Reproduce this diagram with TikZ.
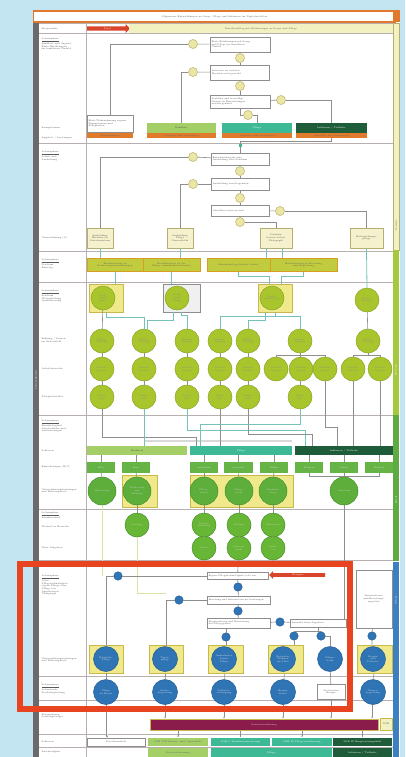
\documentclass[tikz,border=0pt]{standalone}
\usetikzlibrary{arrows.meta,shapes.arrows}
\definecolor{bgblue}{HTML}{C3E5F2}
\definecolor{titleor}{HTML}{E2782E}
\definecolor{lyel}{HTML}{F2F1C2}
\definecolor{redar}{HTML}{D8452A}
\definecolor{orstrip}{HTML}{E07B2C}
\definecolor{lgr}{HTML}{A3CF66}
\definecolor{tealc}{HTML}{3DB996}
\definecolor{dgr}{HTML}{1F5C3A}
\definecolor{beige}{HTML}{F4F1CC}
\definecolor{beigeb}{HTML}{B7AE73}
\definecolor{olive}{HTML}{C0CB3E}
\definecolor{oliveb}{HTML}{D89E22}
\definecolor{ygc}{HTML}{A9C52C}
\definecolor{ygcb}{HTML}{8BA424}
\definecolor{hly}{HTML}{EFE98C}
\definecolor{hlyb}{HTML}{C9B84C}
\definecolor{grc}{HTML}{5DAE3B}
\definecolor{grcb}{HTML}{478F2C}
\definecolor{gbox}{HTML}{66B445}
\definecolor{blc}{HTML}{2F75B6}
\definecolor{blcb}{HTML}{23598E}
\definecolor{purp}{HTML}{8A1C4B}
\definecolor{bbar}{HTML}{3C80C2}
\definecolor{sepg}{HTML}{B8B0B0}
\definecolor{lineg}{HTML}{8E8E8E}
\definecolor{tline}{HTML}{74C2B8}
\definecolor{pale}{HTML}{D5E6A4}
\definecolor{dgray}{HTML}{6A6A6A}
\definecolor{txtg}{HTML}{5A5A5A}
\definecolor{ycircf}{HTML}{EAE6A6}
\definecolor{ycircb}{HTML}{B9B06A}
\definecolor{ygbar}{HTML}{A4C93C}
\definecolor{grbar}{HTML}{5EAB42}
\definecolor{redfr}{HTML}{E8441F}
\begin{document}
\begin{tikzpicture}[x=1pt,y=-1pt,
  every node/.style={font=\fontsize{2.3}{2.7}\selectfont, inner sep=0.5pt, align=center},
  txtbox/.style={draw=lineg, fill=white, line width=0.6pt, text=txtg, align=left, inner sep=1pt},
  ycirc/.style={circle, draw=ycircb, fill=ycircf, line width=0.5pt, minimum size=9, inner sep=0, text=txtg},
  bsmall/.style={circle, draw=blcb, fill=blc, line width=0.4pt, minimum size=8.5, inner sep=0, text=white},
  catbox/.style={minimum height=10, inner sep=0.5pt, text=black!70},
  strip/.style={fill=orstrip, minimum height=5, inner sep=0, text=black!60},
  bgbox/.style={draw=beigeb, fill=beige, line width=0.6pt, text=txtg, minimum height=20},
  obox/.style={draw=oliveb, fill=olive, line width=0.8pt, minimum height=13, text=black!60},
  yg/.style={circle, fill=ygc, draw=ygcb, line width=0.5pt, minimum size=24, inner sep=0, text=black!45},
  hl/.style={fill=hly, draw=hlyb, line width=0.6pt, minimum height=28},
  gc/.style={circle, fill=grc, draw=grcb, line width=0.5pt, minimum size=28, inner sep=0, text=white!80!black},
  gc2/.style={circle, fill=grc!90!lime, draw=grcb, line width=0.5pt, minimum size=24, inner sep=0, text=white!80!black},
  gb/.style={fill=gbox, minimum height=11, text=white!85!black},
  bc/.style={circle, fill=blc, draw=blcb, line width=0.5pt, minimum size=25, inner sep=0, text=white!85!black},
  conn/.style={draw=lineg, line width=0.6pt},
  tl/.style={draw=tline, line width=0.8pt},
  pl/.style={draw=pale, line width=0.9pt},
  lab/.style={anchor=west, text=txtg, align=left},
  sep/.style={draw=sepg, line width=0.6pt},
  tip/.style={-{Latex[length=1.6pt,width=1.6pt]}}
]
\useasboundingbox (0,0) rectangle (405,757);
\fill[bgblue] (0,0) rectangle (405,757);
\fill[white] (33,10) rectangle (400,757);
% side bars
\fill[dgray] (33,23) rectangle (39,757);
\node[rotate=90, text=white] (vtl) at (36,380) {Lebensphasen};
\fill[lyel] (393,23) rectangle (399,250);
\draw[beigeb, line width=0.4pt] (393,23) rectangle (399,250);
\fill[ygbar] (393,250) rectangle (399,415);
\fill[grbar] (393,415) rectangle (399,561);
\fill[bbar] (393,562) rectangle (399,757);
\node[rotate=90, text=txtg] (vr1) at (396,225) {Familie};
\node[rotate=90, text=white] (vr2) at (396,370) {Bildung};
\node[rotate=90, text=white] (vr3) at (396,500) {Beruf};
\node[rotate=90, text=white] (vr4) at (396,600) {Pflege};
% title
\node[draw=titleor, line width=1.2pt, fill=white, minimum width=362, minimum height=11, text=txtg] (title) at (214.5,16.5) {Allgemeine Entwicklungen zu Sorge, Pflege und Inklusion im Digitalzeitalter};
\fill[titleor] (393,10.5) rectangle (399.5,22.5);
% separators
\foreach \yy in {23,33,143,251,282,415,509,560,676,700,734,747} \draw[sep] (39,\yy) -- (393,\yy);
\draw[sep] (86,23) -- (86,757);
% row labels
\node[lab] (l1) at (41,28.5) {Körpernähe};
\node[lab] (l2) at (41,44) {\underline{Lebensphase}\\ Kindheit und Jugend\\ Erste Erfahrungen\\ im familiären Umfeld};
\node[lab] (l3) at (41,128) {Kompetenzen};
\node[lab] (l4) at (41,138) {Angebot / Leistungen};
\node[lab] (l5) at (41,156) {\underline{Lebensphase}\\ Schule und\\ Ausbildung};
\node[lab] (l6) at (41,238) {Unterstützung (A)};
\node[lab] (l7) at (41,264) {\underline{Lebensphase}\\ Studium\\ Einstieg};
\node[lab] (l8) at (41,296) {\underline{Lebensphase}\\ Studium\\ Weiterbildung\\ Qualifizierung};
\node[lab] (l9) at (41,340) {Bildung / Lernen\\ im Arbeitsfeld};
\node[lab] (l10) at (41,369) {Arbeitsbereiche};
\node[lab] (l11) at (41,397) {Tätigkeitsfelder};
\node[lab] (l12) at (41,426) {\underline{Lebensphase}\\ Berufstätigkeit\\ Arbeitsfelder und\\ Anforderungen};
\node[lab] (l13) at (41,451) {Sektoren};
\node[lab] (l14) at (41,467) {Einrichtungen (B/C)};
\node[lab] (l15) at (41,491) {Unterstützungsleistungen\\ und Hilfeangebote};
\node[lab] (l16) at (41,515) {\underline{Lebensphase}\\ Berufswechsel};
\node[lab] (l17) at (41,527) {Wechsel in Bereiche};
\node[lab] (l18) at (41,548) {Neue Aufgaben};
\node[lab] (l19) at (41,585) {\underline{Lebensphase}\\ Alter\\ Pflegebedürftigkeit\\ eigene Pflege oder\\ Pflege von\\ Angehörigen\\ Übergänge};
\node[lab] (l20) at (41,660) {Unterstützungsleistungen\\ und Hilfeangebote};
\node[lab] (l21) at (41,689) {\underline{Lebensphase}\\ Lebensende\\ Sterbebegleitung};
\node[lab] (l22) at (41,716) {Finanzierung\\ Leistungsträger};
\node[lab] (l23) at (41,742) {Sektoren};
\node[lab] (l24) at (41,752) {Zuständigkeit};
% row 2 header
\node[single arrow, fill=redar, minimum height=43, minimum width=9, single arrow head extend=1.2pt, inner sep=0, text=white] (rarr1) at (107.5,28.5) {Start};
\node[fill=lyel, minimum width=264, minimum height=9, text=txtg] (hdr) at (261,28.5) {Familienalltag mit Erfahrungen zu Sorge und Pflege};
% ---------- section 1
\node[txtbox, minimum width=60, minimum height=15, text width=57] (A) at (240,44.5) {Erste Erfahrungen mit Sorge\\ und Pflege im familiären\\ Umfeld};
\node[ycirc] (y1) at (193,44) {};
\node[ycirc] (y2) at (240,58) {};
\node[txtbox, minimum width=59, minimum height=15, text width=56] (B) at (240,72.5) {Interesse an sozialen\\ Berufen wird geweckt};
\node[ycirc] (y3) at (193,72) {};
\node[ycirc] (y4) at (240,86) {};
\node[txtbox, minimum width=60, minimum height=13, text width=57] (C) at (240,101.5) {Praktika und freiwillige\\ Dienste in Einrichtungen\\ werden genutzt};
\node[ycirc] (y5) at (281,100) {};
\node[ycirc] (y6) at (248,115) {};
\node[txtbox, minimum width=46, minimum height=17, text width=43] (W) at (110,123.5) {Erste Wahrnehmung eigener\\ Kompetenzen und\\ Fähigkeiten};
\node[catbox, fill=lgr, minimum width=69] (K1) at (181.5,128) {Kindheit};
\node[catbox, fill=tealc, minimum width=70, text=white] (K2) at (257,128) {Pflege};
\node[catbox, fill=dgr, minimum width=71, text=white] (K3) at (331.5,128) {Inklusion / Teilhabe};
\node[strip, minimum width=46] (O0) at (110,135.5) {Kompetenzen};
\node[strip, minimum width=69] (O1) at (181.5,135.5) {Angebote und Leistungen};
\node[strip, minimum width=70] (O2) at (257,135.5) {Angebote und Leistungen};
\node[strip, minimum width=71] (O3) at (331.5,135.5) {Angebote und Leistungen};
\draw[conn] (A) -- (y1);
\draw[conn] (y1) -| (W.north);
\draw[conn] (A) -- (y2) -- (B);
\draw[conn] (B) -- (y3);
\draw[conn] (y3) -| (K1.north);
\draw[conn] (B) -- (y4) -- (C);
\draw[conn] (C) -- (y5);
\draw[conn] (y5) -| (K3.north);
\draw[conn] (C.south) |- (y6);
\draw[conn] (y6) -| (K2.north);
% ---------- section 2
\node[txtbox, minimum width=58, minimum height=12, text width=55] (D) at (240,159) {Entscheidung für eine\\ Ausbildung oder Studium};
\node[ycirc] (y7) at (193,157) {};
\node[ycirc] (y8) at (240,171) {};
\node[txtbox, minimum width=58, minimum height=12, text width=55] (E) at (240,184) {Ausbildung wird begonnen};
\node[ycirc] (y9) at (193,184) {};
\node[ycirc] (y10) at (240,198) {};
\node[txtbox, minimum width=58, minimum height=11, text width=55] (F) at (240,210.5) {Abschluss wird erreicht};
\node[ycirc] (y11) at (280,211) {};
\node[ycirc] (y12) at (240,222) {};
\coordinate (j1) at (240,141);
\draw[conn] (O3.south) |- (j1) -- (D.north);
\node[fill=tealc, minimum size=3, inner sep=0] (sq) at (240,145) {};
\node[bgbox, minimum width=26, text width=24] (bx1) at (100,238) {Ausbildung\\ Erzieher/in\\ Sozialassistenz};
\node[bgbox, minimum width=26, text width=24] (bx2) at (180,238) {Ausbildung\\ Pflege\\ Generalistik};
\node[bgbox, minimum width=32, text width=30] (bx3) at (276,238) {Studium\\ Soziale Arbeit\\ Pädagogik};
\node[bgbox, minimum width=33, text width=31] (bx4) at (366.5,238) {Heilerziehungs-\\ pflege};
\draw[conn] (D) -- (y7);
\draw[conn] (y7) -| (bx1.north);
\draw[conn] (D) -- (y8) -- (E);
\draw[conn] (E) -- (y9);
\draw[conn] (y9) -| (bx2.north);
\draw[conn] (E) -- (y10) -- (F);
\draw[conn] (F) -- (y11);
\draw[conn] (y11) -| (bx4.north);
\draw[conn] (F) -- (y12);
\draw[conn] (y12) -| (bx3.north);
% ---------- section 3
\node[obox, minimum width=56] (ob1) at (115,265) {Berufseinstieg in\\ Kindertageseinrichtungen};
\node[obox, minimum width=57] (ob2) at (171.5,265) {Berufseinstieg in der\\ Pflege (ambulant/stationär)};
\node[obox, minimum width=63] (ob3) at (238.5,265) {Berufseinstieg Soziale Arbeit};
\node[obox, minimum width=67] (ob4) at (303.5,265) {Berufseinstieg in Beratung\\ und Begleitung};
\draw[tl] (bx1.south) -- (bx1.south |- ob1.north);
\draw[tl] (bx2.south) -- (bx2.south |- ob2.north);
\draw[tl] ([xshift=-10pt]bx3.south) -- ([xshift=-10pt]bx3.south |- ob3.north);
\draw[tl] ([xshift=6pt]bx3.south) -- ([xshift=6pt]bx3.south |- ob4.north);
% ---------- section 4
\node[hl, minimum width=34] (hl1) at (106,298) {};
\node[hl, draw=lineg, fill=gray!12, minimum width=37] (hl2) at (181.5,298) {};
\node[hl, minimum width=34] (hl3) at (275,298) {};
\node[yg] (a1) at (103,298) {Fach-\\kraft\\Kita};
\node[yg] (a2) at (177,298) {Fach-\\kraft\\Pflege};
\node[yg] (a3) at (272,298) {Sozial-\\arbeiter/in};
\node[yg] (a4) at (367,300) {Heiler-\\zieher/in};
\draw[tl] (bx4.south) -- (a4.north);
\draw[tl] (ob1.south) -- (ob1.south |- hl1.north);
\draw[tl] (ob2.south) -- (ob2.south |- hl2.north);
\draw[tl] (ob3.south) -- ++(0,4) -| ([xshift=-6pt]hl3.north);
\draw[tl] (ob4.south) -- ++(0,4) -| ([xshift=6pt]hl3.north);
\foreach \n/\xx in {1/102,2/144,3/187,4/220,5/248,6/300,7/368}
  \node[yg] (b\n) at (\xx,341) {Weiter-\\bildung};
\foreach \n/\xx in {1/102,2/144,3/187,4/220,5/248,6/276,7/301,8/325,9/353,10/380}
  \node[yg] (c\n) at (\xx,369) {Arbeits-\\bereich};
\foreach \n/\xx in {1/102,2/144,3/187,4/220,5/248,6/300}
  \node[yg] (d\n) at (\xx,397) {Tätig-\\keit};
\draw[conn] (a1) -- (b1);
\draw[conn] (a4) -- (b7);
\draw[tl] (hl1.south) -- ++(0,5) -| (b2.north);
\draw[tl] ([xshift=-8pt]hl2.south) -- ++(0,8) -| ([xshift=3pt]b2.north);
\draw[tl] (hl2.south) -- ++(0,3) -| (b3.north);
\draw[tl] (hl3.south) -- ++(0,4) -| (b4.north);
\draw[tl] (hl3.south) -- ++(0,4) -| (b6.north);
\draw[tl] ([xshift=-10pt]hl3.south) -- ++(0,8) -| (b5.north);
\foreach \n in {1,...,5} {\draw[conn] (b\n) -- (c\n); \draw[conn] (c\n) -- (d\n);}
\draw[conn] (b6.south) -- ++(0,2) -| (c6.north);
\draw[conn] (b6.south) -- ++(0,2) -| (c8.north);
\draw[conn] (b6) -- (c7);
\draw[conn] (b7.south) -- ++(0,2) -| (c9.north);
\draw[conn] (b7.south) -- ++(0,2) -| (c10.north);
\draw[conn] (c7) -- (d6);
% ---------- section 5
\node[catbox, fill=lgr, minimum width=100, minimum height=9] (cat1) at (137,450.5) {Kindheit};
\node[catbox, fill=tealc, minimum width=102, minimum height=9, text=white] (cat2) at (241,450.5) {Pflege};
\node[catbox, fill=dgr, minimum width=98, minimum height=9, text=white] (cat3) at (344,450.5) {Inklusion / Teilhabe};
\coordinate (ta) at (196,437);
\coordinate (tb) at (305,430);
\coordinate (tc) at (312,434);
\coordinate (td) at (200,424);
\coordinate (te) at (337,427);
\draw[gray!30, line width=2pt] (144,440.5) -- (292,440.5);
\draw[conn] (d1.south) |- (ta) -- (ta |- cat2.north);
\draw[tl] (d2.south) -- (d2.south |- cat1.north);
\draw[tl] (d3.south) |- (tb) -- (tb |- cat3.north);
\draw[conn] (d4.south) -- (d4.south |- cat2.north);
\draw[conn] (d5.south) |- (tc) -- (tc |- cat3.north);
\draw[tl] (d6.south) |- (td) -- (td |- cat2.north);
\draw[conn] (c8.south) |- (te) -- (te |- cat3.north);
\draw[conn] (c9.south) -- (c9.south |- cat3.north);
\draw[conn] (c10.south) -- (c10.south |- cat3.north);
\node[gb, minimum width=28] (g1) at (101,467.5) {Kita};
\node[gb, minimum width=28] (g2) at (136,467.5) {Hort};
\node[gb, minimum width=28] (g3) at (204,467.5) {ambulant};
\node[gb, minimum width=29] (g4) at (238.5,467.5) {stationär};
\node[gb, minimum width=28] (g5) at (274,467.5) {Klinik};
\node[gb, minimum width=28] (g6) at (309,467.5) {Wohnen};
\node[gb, minimum width=28] (g7) at (344,467.5) {Arbeit};
\node[gb, minimum width=28] (g8) at (379,467.5) {Freizeit};
\foreach \g/\c in {g1/cat1,g2/cat1,g3/cat2,g4/cat2,g5/cat2,g6/cat3,g7/cat3,g8/cat3}
  \draw[conn] (\c.south -| \g.north) -- (\g.north);
\node[hl, minimum width=35, minimum height=32] (hl5) at (139.5,491) {};
\node[hl, minimum width=103, minimum height=32] (hl6) at (241.5,491) {};
\node[gc] (e1) at (102,491) {Betreuung};
\node[gc] (e2) at (137,491) {Förderung\\ und\\ Bildung};
\node[gc] (e3) at (204,491) {Pflege-\\dienst};
\node[gc] (e4) at (239,491) {Pflege-\\heim};
\node[gc] (e5) at (273,491) {Kranken-\\haus};
\node[gc] (e6) at (344,491) {Assistenz};
\foreach \n in {1,...,5} \draw[conn] (g\n) -- (e\n);
\draw[conn] (g6.south) -- ++(0,3) -| (e6.north);
\draw[conn] (g8.south) -- ++(0,3) -| (e6.north);
\draw[conn] (g7) -- (e6);
% ---------- section 6
\node[gc2] (f1) at (137,525) {Leitung};
\node[gc2] (f2) at (204,525) {Praxis-\\anleitung};
\node[gc2] (f3) at (239,525) {Leitung};
\node[gc2] (f4) at (273,525) {Beratung};
\node[gc2] (f5) at (204,548) {Lehre};
\node[gc2] (f6) at (239,548) {Manage-\\ment};
\node[gc2] (f7) at (273,548) {Quali-\\tät};
\draw[conn] (e2) -- (f1);
\draw[conn] (e3) -- (f2);
\draw[conn] (e4) -- (f3);
\draw[conn] (e5) -- (f4);
\draw[conn] (f2) -- (f5);
\draw[conn] (f3) -- (f6);
\draw[conn] (f4) -- (f7);
% ---------- section 7
\node[txtbox, minimum width=61, minimum height=7, text width=58] (G) at (237.5,576) {Eigene Pflegebedürftigkeit tritt ein};
\node[single arrow, shape border rotate=180, fill=redar, minimum height=56, minimum width=8, single arrow head extend=1.5pt, inner sep=0, text=white] (rarr2) at (298,575) {Ereignis};
\node[bsmall] (bc1) at (118,576) {};
\node[bsmall] (bc2) at (238,587) {};
\node[txtbox, minimum width=63, minimum height=8, text width=60] (H) at (238.5,600) {Beratung und Information zu Leistungen};
\node[bsmall] (bc3) at (179,600) {};
\node[bsmall] (bc4) at (238,611) {};
\node[txtbox, minimum width=63, minimum height=10, text width=60] (I) at (238.5,623) {Begutachtung und Einstufung\\ des Pflegegrades};
\node[bsmall] (bc5) at (280,622) {};
\node[txtbox, minimum width=56, minimum height=8, text width=53] (J) at (318,623) {Auswahl eines Angebots};
\node[txtbox, minimum width=36, minimum height=58, text width=32, align=center] (Kx) at (374,599) {Informations-\\ und Beratungs-\\ angebote};
\node[bsmall] (bc6) at (226,637) {};
\node[bsmall] (bc7) at (294,636) {};
\node[bsmall] (bc8) at (321,636) {};
\node[bsmall] (bc9) at (372,636) {};
\node[hl, minimum width=34] (hb1) at (106,659) {};
\node[hl, minimum width=34] (hb2) at (166,659) {};
\node[hl, minimum width=35] (hb3) at (225.5,659) {};
\node[hl, minimum width=35] (hb4) at (285.5,659) {};
\node[hl, minimum width=35] (hb6) at (374.5,659) {};
\node[bc] (bb1) at (106,659) {Häusliche\\ Pflege};
\node[bc] (bb2) at (165,659) {Tages-\\pflege};
\node[bc] (bb3) at (224,659) {Ambulanter\\ Dienst\\ Pflege};
\node[bc] (bb4) at (283,659) {Betreutes\\ Wohnen\\ im Alter};
\node[bc] (bb5) at (330,659) {Pflege-\\heim};
\node[bc] (bb6) at (373,659) {Hospiz\\ und\\ Palliativ};
\draw[pl] (e1.south) -- (e1.south |- bc1);
\coordinate (pf) at (166,593);
\draw[pl] (f1.south) |- (pf);
\draw[conn] (e6.south) -- (e6.south |- J.north);
\draw[conn] (f6) -- (G);
\draw[conn] (G) -- (bc1);
\draw[conn] (bc1) -| (hb1.north);
\draw[conn] (G) -- (bc2) -- (H);
\draw[conn] (H) -- (bc3);
\draw[conn] (bc3) -| (hb2.north);
\draw[conn] (H) -- (bc4) -- (I);
\draw[conn] (I) -- (bc5) -- (J);
\draw[conn] (I.south -| bc6) -- (bc6) -- (bc6 |- hb3.north);
\draw[conn] (J.south) -- ++(0,4) -| (bc7.north);
\draw[conn] (J.south) -- ++(0,4) -| (bc8.north);
\draw[conn] (bc7) -- (bc7 |- hb4.north);
\draw[conn] (bc8) -| (bb5.north);
\draw[conn] (Kx) -- (bc9) -- (bc9 |- hb6.north);
% ---------- section 8
\node[bc] (bd1) at (106,692) {Pflege\\ zu Hause};
\node[bc] (bd2) at (165,692) {Sterbe-\\begleitung};
\node[bc] (bd3) at (224,692) {Palliativ-\\versorgung};
\node[bc] (bd4) at (283,692) {Hospiz-\\dienst};
\node[bc] (bd5) at (373,692) {Trauer-\\begleitung};
\node[txtbox, minimum width=28, minimum height=15, text width=25, align=center] (L) at (331,692) {Stationäres\\ Hospiz};
\draw[conn] (hb1) -- (bd1);
\draw[conn] (hb2) -- (bd2);
\draw[conn] (hb3) -- (bd3);
\draw[conn] (hb4) -- (bd4);
\draw[conn] (hb6) -- (bd5);
\draw[conn] (bb5) -- (L);
% ---------- section 9
\node[fill=purp, draw=hlyb, line width=1pt, minimum width=228, minimum height=11, text=white!80!purp] (P) at (264,724.5) {Sozialversicherung};
\node[fill=lyel, draw=hlyb, line width=0.5pt, minimum width=12, minimum height=12, text=txtg] (Q) at (386,724) {SGB};
\draw[conn, tip] (bd2.south) -- (bd2.south |- P.north);
\draw[conn, tip] (bd3.south) -- (bd3.south |- P.north);
\draw[conn, tip] (bd4.south) -- (bd4.south |- P.north);
\draw[conn, tip] (L.south) -- (L.south |- P.north);
\draw[conn, tip] ([xshift=-1pt]bd5.south) -- ([xshift=-1pt]bd5.south |- P.north);
% ---------- section 10/11
\node[txtbox, minimum width=58, minimum height=8, align=center] (r1) at (116,742) {Privathaushalt};
\node[fill=lgr, minimum width=60, minimum height=8, text=black!60] (r2) at (178,741.5) {SGB VIII Kinder- und Jugendhilfe};
\node[fill=tealc, minimum width=59, minimum height=8, text=white] (r3) at (240.5,741.5) {SGB V Krankenversicherung};
\node[fill=tealc, minimum width=60, minimum height=8, text=white] (r4) at (302,741.5) {SGB XI Pflegeversicherung};
\node[fill=dgr, minimum width=59, minimum height=8, text=white] (r5) at (362.5,741.5) {SGB IX Eingliederungshilfe};
\node[fill=lgr, minimum width=60, minimum height=9, text=black!60] (s1) at (178,752.5) {Kinderbetreuung};
\node[fill=tealc, minimum width=121, minimum height=9, text=white] (s2) at (271.5,752.5) {Pflege};
\node[fill=dgr, minimum width=59, minimum height=9, text=white] (s3) at (362.5,752.5) {Inklusion / Teilhabe};
\draw[lineg, double, double distance=0.8pt, line width=0.4pt, -{Latex[length=2pt,width=2.5pt]}] ([xshift=1pt]bd1.south) -- ([xshift=1pt]bd1.south |- r1.north);
\foreach \r in {r2,r3,r4,r5} \draw[conn, tip] (P.south -| \r.north) -- (\r.north);
% red frame
\draw[redfr, line width=6pt] (20,563.5) rectangle (350,708.5);
\end{tikzpicture}
\end{document}
